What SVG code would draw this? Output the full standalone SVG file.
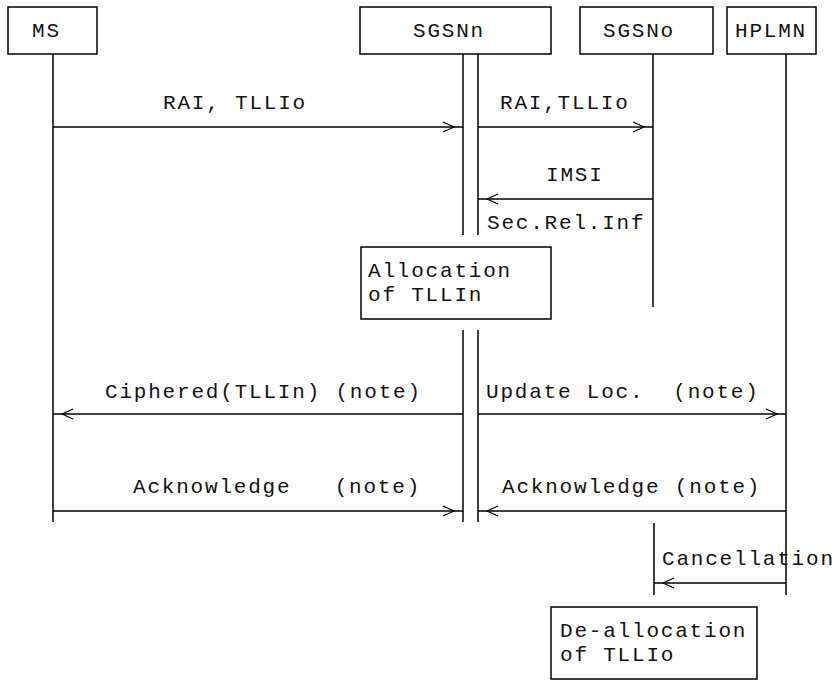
<svg xmlns="http://www.w3.org/2000/svg" width="837" height="680" viewBox="0 0 837 680">
<style>
.box{fill:#fff;stroke:#000;stroke-width:1.5}
.life{stroke:#000;stroke-width:1.5;fill:none}
.msg{stroke:#000;stroke-width:1.5;fill:none;marker-end:url(#arr)}
text{font-family:"Liberation Mono","Courier New",monospace;font-size:21px;letter-spacing:1.8px;fill:#111;white-space:pre}
</style>
<defs>
<marker id="arr" markerUnits="userSpaceOnUse" orient="auto" refX="0" refY="0" markerWidth="30" markerHeight="12" viewBox="-25 -6 30 12" overflow="visible">
<path d="M-20,-5 L-9,0 L-20,5" fill="none" stroke="#000" stroke-width="1.2"/>
</marker>
</defs>
<rect width="837" height="680" fill="#fff"/>
<g id="ms">
<rect class="box" x="8" y="7" width="89" height="47"/>
<text x="32" y="37">MS</text>
<line class="life" x1="53" y1="54" x2="53" y2="522"/>
</g>
<g id="sgsnn">
<rect class="box" x="360" y="7" width="191" height="47"/>
<text x="413" y="37">SGSNn</text>
<path class="life" d="M463,54V235M478,54V235M463,330V522M478,330V522"/>
</g>
<g id="sgsno">
<rect class="box" x="580" y="7" width="133" height="47"/>
<text x="603" y="37">SGSNo</text>
<path class="life" d="M653,54V307M654,523V595"/>
</g>
<g id="hplmn">
<rect class="box" x="727" y="7" width="89" height="47"/>
<text x="735" y="37">HPLMN</text>
<line class="life" x1="786" y1="54" x2="786" y2="595"/>
</g>
<g id="alloc">
<rect class="box" x="361" y="247" width="190" height="72"/>
<text x="368" y="277">Allocation</text>
<text x="368" y="301">of TLLIn</text>
</g>
<g id="dealloc">
<rect class="box" x="551" y="607" width="206" height="72"/>
<text x="560" y="637">De-allocation</text>
<text x="560" y="661">of TLLIo</text>
</g>
<g id="connectors">
<line class="msg" x1="53" y1="127" x2="463" y2="127"/>
<text x="163" y="109">RAI, TLLIo</text>
<line class="msg" x1="478" y1="127" x2="653" y2="127"/>
<text x="500" y="109">RAI,TLLIo</text>
<line class="msg" x1="653" y1="199" x2="478" y2="199"/>
<text x="546" y="181">IMSI</text>
<text x="487" y="229">Sec.Rel.Inf</text>
<line class="msg" x1="463" y1="414" x2="53" y2="414"/>
<text x="105" y="398">Ciphered(TLLIn) (note)</text>
<line class="msg" x1="478" y1="414" x2="786" y2="414"/>
<text x="486" y="398">Update Loc.  (note)</text>
<line class="msg" x1="53" y1="511" x2="463" y2="511"/>
<text x="133" y="493">Acknowledge   (note)</text>
<line class="msg" x1="786" y1="511" x2="478" y2="511"/>
<text x="502" y="493">Acknowledge (note)</text>
<line class="msg" x1="786" y1="583" x2="654" y2="583"/>
<text x="662" y="565">Cancellation</text>
</g>
</svg>
